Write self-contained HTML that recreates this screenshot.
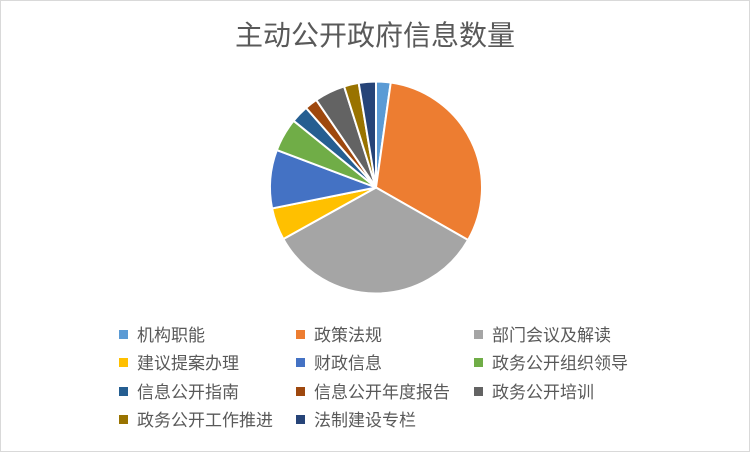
<!DOCTYPE html>
<html><head><meta charset="utf-8"><style>
html,body{margin:0;padding:0;background:#fff}
svg{display:block}
text{font-family:"Liberation Sans","Noto Sans CJK SC",sans-serif;fill:#595959}
</style></head><body>
<svg id="s" width="750" height="452" viewBox="0 0 750 452" xmlns="http://www.w3.org/2000/svg">
<rect x="0.5" y="0.5" width="749" height="451" fill="#fff" stroke="#d9d9d9"/>
<text x="375" y="45" font-size="28" text-anchor="middle">主动公开政府信息数量</text>
<g id="pie"></g>
<g font-size="17">
<rect x="119" y="330" width="9" height="9" fill="#5b9bd5"/><text x="137" y="341">机构职能</text>
<rect x="296" y="330" width="9" height="9" fill="#ed7d31"/><text x="314" y="341">政策法规</text>
<rect x="474" y="330" width="9" height="9" fill="#a5a5a5"/><text x="492" y="341">部门会议及解读</text>
<rect x="119" y="358" width="9" height="9" fill="#ffc000"/><text x="137" y="369">建议提案办理</text>
<rect x="296" y="358" width="9" height="9" fill="#4472c4"/><text x="314" y="369">财政信息</text>
<rect x="474" y="358" width="9" height="9" fill="#70ad47"/><text x="492" y="369">政务公开组织领导</text>
<rect x="119" y="387" width="9" height="9" fill="#255e91"/><text x="137" y="398">信息公开指南</text>
<rect x="296" y="387" width="9" height="9" fill="#9e480e"/><text x="314" y="398">信息公开年度报告</text>
<rect x="474" y="387" width="9" height="9" fill="#636363"/><text x="492" y="398">政务公开培训</text>
<rect x="119" y="415" width="9" height="9" fill="#997300"/><text x="137" y="426">政务公开工作推进</text>
<rect x="296" y="415" width="9" height="9" fill="#264478"/><text x="314" y="426">法制建设专栏</text>
</g>
</svg>
<script>
var cx=376,cy=187.5,r=106;
var b=[0,8,119.7,240.9,258.6,290.7,309,318.7,325.7,342.5,350.6,360];
var c=["#5b9bd5","#ed7d31","#a5a5a5","#ffc000","#4472c4","#70ad47","#255e91","#9e480e","#636363","#997300","#264478"];
function p(a){a=a*Math.PI/180;return (cx+r*Math.sin(a)).toFixed(2)+","+(cy-r*Math.cos(a)).toFixed(2);}
var h="";
for(var i=0;i<c.length;i++){var a0=b[i],a1=b[i+1];
h+='<path d="M'+cx+','+cy+' L'+p(a0)+' A'+r+','+r+' 0 '+((a1-a0)>180?1:0)+' 1 '+p(a1)+' Z" fill="'+c[i]+'" stroke="#fff" stroke-width="2" stroke-linejoin="round"/>';}
document.getElementById("pie").innerHTML=h;
</script>
</body></html>
